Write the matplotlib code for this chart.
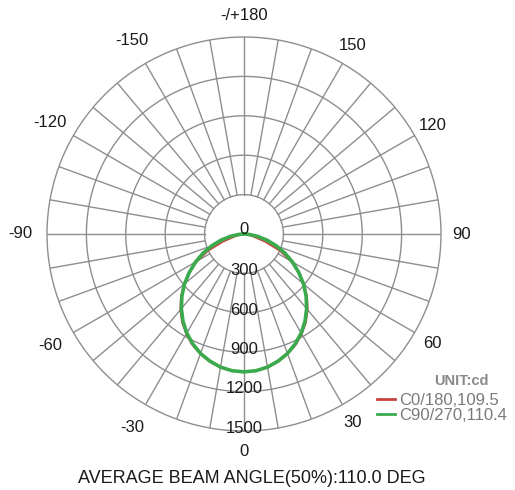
import numpy as np
import matplotlib
matplotlib.use('Agg')
import matplotlib.pyplot as plt
from matplotlib.lines import Line2D

# ---------------- data ----------------
angles_deg = [0, 5, 10, 15, 20, 25, 30, 35, 40, 45, 50, 55, 60, 65, 70, 75, 80, 85, 90]
c0_180_cd = [1050, 1046, 1032, 1008, 972, 932, 880, 822, 755, 680, 598, 508, 410, 300, 170, 70, 15, 0, 0]
c90_270_cd = [1050, 1045, 1029, 1002, 968, 923, 871, 810, 742, 669, 591, 508, 426, 343, 260, 181, 108, 44, 0]

ring_values = [300, 600, 900, 1200, 1500]
ring_labels = ['300', '600', '900', '1200', '1500']
angle_tick_values = [0, 30, 60, 90, 120, 150, 180, -150, -120, -90, -60, -30]
angle_tick_labels = ['0', '30', '60', '90', '120', '150', '-/+180', '-150', '-120', '-90', '-60', '-30']
series_names = ['C0/180,109.5', 'C90/270,110.4']
unit_text = 'UNIT:cd'
beam_text = 'AVERAGE BEAM ANGLE(50%):110.0 DEG'

# ---------------- style ----------------
plt.rcParams['font.family'] = ['Liberation Sans', 'DejaVu Sans']
GRID = '#8e8e8e'
RED = '#c8433c'
GREEN = '#3aaa4c'
TXT = '#1a1a1a'
LEG = '#7a7a7a'

fig = plt.figure(figsize=(5.15, 4.9), dpi=100)
W, H = 515, 490
cx, cy, R = 244, 234, 197
ax = fig.add_axes([(cx - R) / W, (H - cy - R) / H, 2 * R / W, 2 * R / H], projection='polar')
ax.set_theta_zero_location('S')
ax.set_theta_direction(1)
ax.set_ylim(0, ring_values[-1])
ax.grid(False)
ax.set_xticks([])
ax.set_yticks([])
ax.spines['polar'].set_color(GRID)
ax.spines['polar'].set_linewidth(1.0)

# rings
th_full = np.linspace(0, 2 * np.pi, 721)
for rv in ring_values[:-1]:
    ax.plot(th_full, np.full_like(th_full, rv), color=GRID, lw=1.0, zorder=1)
# radial lines every 10 degrees from inner ring to outer ring
for a in range(0, 360, 10):
    t = np.deg2rad(a)
    ax.plot([t, t], [ring_values[0], ring_values[-1]], color=GRID, lw=1.0, zorder=1)

# curves (mirror for both halves of each plane)
ang = np.array(angles_deg, dtype=float)
def full_curve(vals):
    v = np.array(vals, dtype=float)
    th = np.concatenate([-ang[::-1], ang[1:]])
    r = np.concatenate([v[::-1], v[1:]])
    return np.deg2rad(th), r

t0, r0 = full_curve(c0_180_cd)
t9, r9 = full_curve(c90_270_cd)
ax.plot(t0, r0, color=RED, lw=1.3, zorder=3)
ax.plot(t9, r9, color=GREEN, lw=2.6, zorder=4)

# radial value labels along the 0-degree axis
ax.annotate('0', xy=(0, 0), xytext=(0, 3.5), textcoords='offset points',
            ha='center', va='center', fontsize=12, color=TXT, zorder=6)
for rv, lab in zip(ring_values, ring_labels):
    ax.annotate(lab, xy=(0, rv), xytext=(0, 2), textcoords='offset points',
                ha='center', va='center', fontsize=12, color=TXT, zorder=6,
                annotation_clip=False)

# angle labels outside
for a, lab in zip(angle_tick_values, angle_tick_labels):
    rpx = 224 if a < 0 else (218 if a > 0 and a < 180 else 218)
    ax.text(np.deg2rad(a), ring_values[-1] * rpx / R, lab, ha='center', va='center',
            fontsize=12, color=TXT, clip_on=False)

# legend
handles = [Line2D([], [], color=RED, lw=2.0), Line2D([], [], color=GREEN, lw=2.0)]
fig.legend(handles, series_names, loc='upper left', bbox_to_anchor=(377 / W, 1 - 393 / H),
           frameon=False, fontsize=12, labelcolor=LEG, handlelength=1.1,
           handletextpad=0.25, labelspacing=0.0, borderpad=0, borderaxespad=0)
fig.text(461 / W, 1 - 381 / H, unit_text, ha='center', va='center', fontsize=10.5,
         fontweight='bold', color='#8a8a8a')

fig.text(252 / W, 1 - 478 / H, beam_text, ha='center', va='center', fontsize=13, color=TXT)

fig.savefig('out.png', dpi=100, facecolor='white')
